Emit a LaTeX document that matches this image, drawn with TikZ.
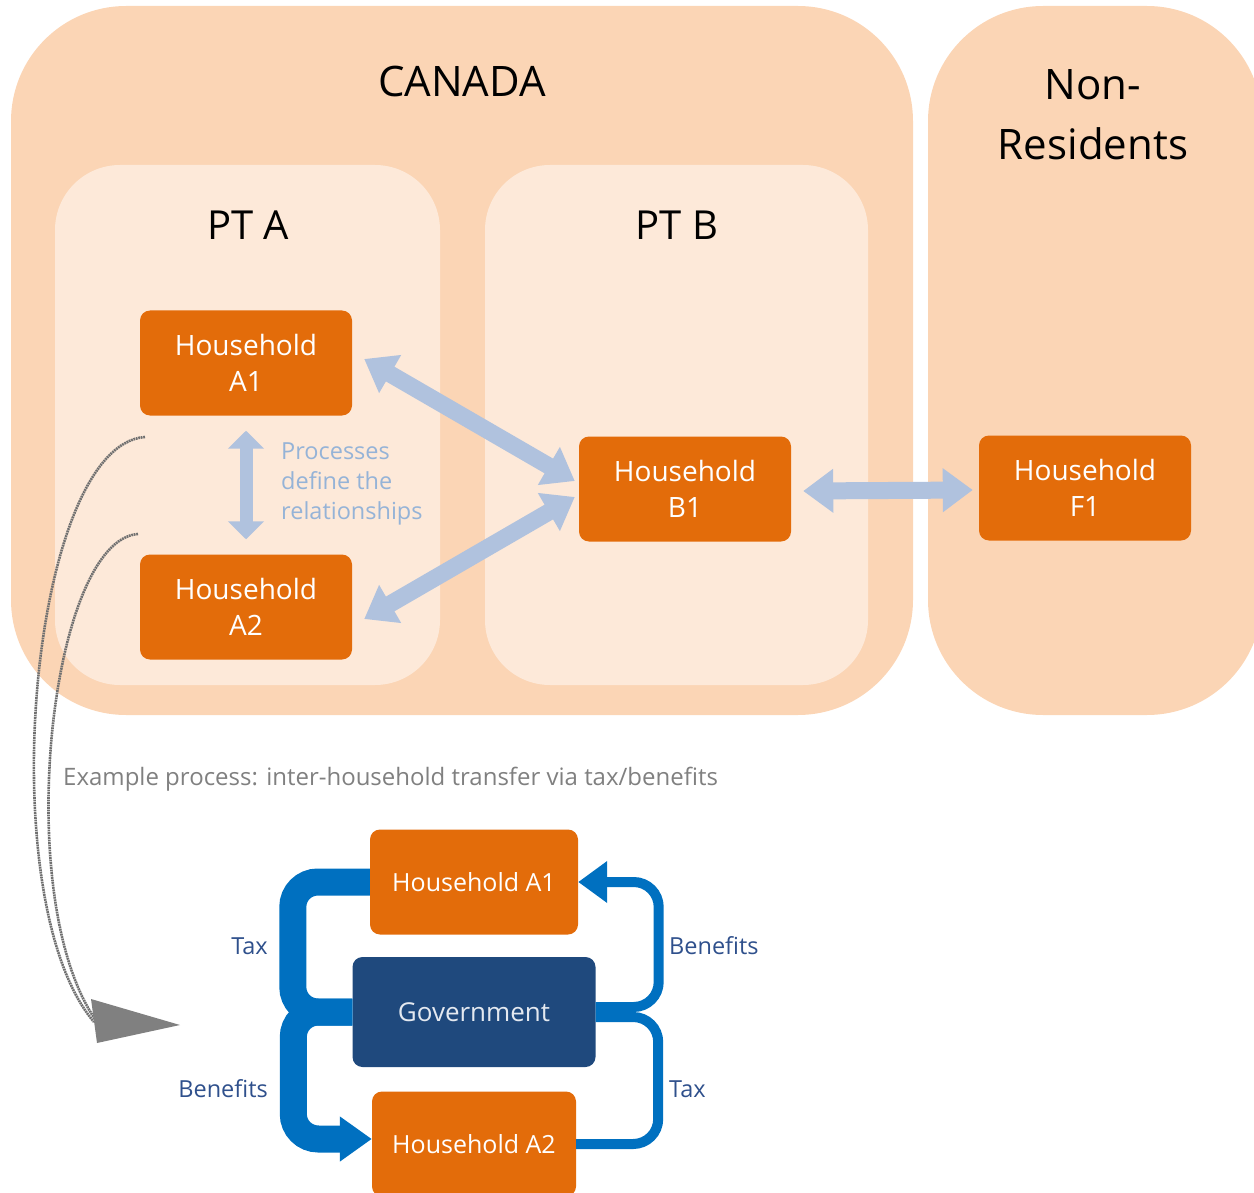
\documentclass[tikz,border=0pt]{standalone}
\usepackage{fontspec}
\setmainfont{Open Sans}
\usepackage{xcolor}
\usepackage{tikz}
\usetikzlibrary{arrows.meta, calc}

\definecolor{peach}{RGB}{251,213,181}
\definecolor{peachlight}{RGB}{253,233,217}
\definecolor{hhorange}{RGB}{227,108,10}
\definecolor{relblue}{RGB}{176,194,222}
\definecolor{reltext}{RGB}{149,179,215}
\definecolor{flowblue}{RGB}{0,112,192}
\definecolor{govblue}{RGB}{31,73,125}
\definecolor{labelblue}{RGB}{47,80,140}
\definecolor{notegray}{RGB}{128,128,128}
\definecolor{linkgray}{RGB}{112,112,112}

\begin{document}
\begin{tikzpicture}[x=1pt, y=-1pt,
    hh/.style={rectangle, rounded corners=10pt, fill=hhorange, text=white, inner sep=0pt,
      align=center, minimum width=212pt, minimum height=105pt, font=\fontsize{28}{36}\selectfont},
    hhsmall/.style={hh, font=\fontsize{25}{30}\selectfont},
    title/.style={font=\fontsize{42}{60}\selectfont, align=center},
    rel/.style={draw=relblue, line width=17pt,
      arrows={Triangle[length=30pt,width=42pt]-Triangle[length=30pt,width=42pt]}},
    link/.style={draw=linkgray, line width=2.6pt, dash pattern=on 1.8pt off 0.7pt},
    taxflow/.style={draw=flowblue, line width=27pt, rounded corners=25pt},
    thinflow/.style={draw=flowblue, line width=10pt, rounded corners=25pt},
    flowlabel/.style={text=labelblue, font=\fontsize{23.5}{28}\selectfont, inner sep=0pt}]

  \clip (0,0) rectangle (1254,1193);

  % regions
  \fill[peach, rounded corners=115pt] (11,6) rectangle (913,715);
  \fill[peach, rounded corners=115pt] (928,6) rectangle (1262,715);
  \fill[peachlight, rounded corners=65pt] (55,165) rectangle (440,685);
  \fill[peachlight, rounded corners=65pt] (485,165) rectangle (868,685);

  \node[title] (canada) at (462,82) {CANADA};
  \node[title] (nonres) at (1093,115) {Non-\\Residents};
  \node[title, font=\fontsize{40}{48}\selectfont] (pta) at (248,225) {PT A};
  \node[title, font=\fontsize{40}{48}\selectfont] (ptb) at (677,225) {PT B};

  % households
  \node[hh] (A1) at (246,363) {Household\\A1};
  \node[hh] (A2) at (246,607) {Household\\A2};
  \node[hh] (B1) at (685,489) {Household\\B1};
  \node[hh] (F1) at (1085,488) {Household\\F1};

  % relationships
  \draw[rel, arrows={Triangle[length=18pt,width=35pt]-Triangle[length=18pt,width=35pt]}, line width=13pt,
    shorten <=15pt, shorten >=15pt] (A1.south) -- (A2.north);
  \draw[rel] ($(A1.east)+(12,-4)$) -- ($(B1.west)+(-4,-8)$);
  \draw[rel] ($(A2.east)+(12,12)$) -- ($(B1.west)+(-4,8)$);
  \draw[rel] ($(B1.east)+(12,2)$) -- ($(F1.west)+(-6,2)$);
  \node[text=reltext, align=left, anchor=west, inner sep=0pt,
    font=\fontsize{23.5}{30}\selectfont] (note) at (281,484) {Processes\\define the\\relationships};

  % link to example
  \coordinate (src1) at (145,437);
  \coordinate (src2) at (138,534);
  \coordinate (tip) at (180,1025);
  \draw[link] (src1) .. controls (30,445) and (-10,900) .. (94,1022);
  \draw[link] (src2) .. controls (50,540) and (10,900) .. (97,1022);
  \fill[notegray] (91,999) -- (tip) -- (97,1043) -- cycle;

  \node[text=notegray, anchor=west, inner sep=0pt, font=\fontsize{24}{28}\selectfont]
    (example) at (63,779) {Example process: inter-household transfer via tax/benefits};

  % example process
  \node[hhsmall, minimum width=208pt] (A1b) at (474,882) {Household A1};
  \node[hhsmall, minimum width=243pt, minimum height=110pt, fill=govblue,
    text={rgb,255:red,228;green,233;blue,240}, font=\fontsize{26}{30}\selectfont] (gov) at (474,1012) {Government};
  \node[hhsmall, minimum width=204pt] (A2b) at (474,1144) {Household A2};

  \draw[taxflow] (A1b.west) -- ++(-77,0) |- (gov.west);
  \draw[taxflow, arrows={-Triangle[length=32pt,width=43pt]}] (gov.west) -- ++(-59,0) |- ($(A2b.west)+(0,-5)$);
  \draw[thinflow, arrows={-Triangle[length=29pt,width=40pt]}] ($(gov.east)+(0,-5)$) -- ++(63,0) |- (A1b.east);
  \draw[thinflow] (A2b.east) -- ++(82,0) |- ($(gov.east)+(0,5)$);

  \node[flowlabel, anchor=east] (taxl) at (268,946) {Tax};
  \node[flowlabel, anchor=east] (benl) at (268,1089) {Benefits};
  \node[flowlabel, anchor=west] (benr) at (669,946) {Benefits};
  \node[flowlabel, anchor=west] (taxr) at (669,1089) {Tax};
\end{tikzpicture}
\end{document}
